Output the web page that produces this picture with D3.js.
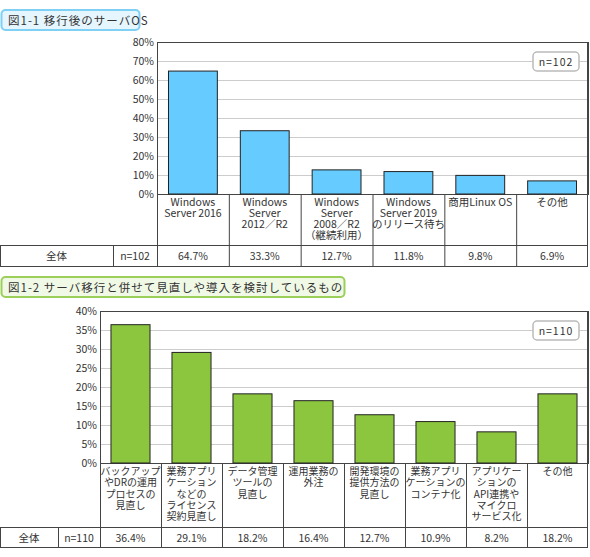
<!DOCTYPE html>
<html><head><meta charset="utf-8">
<script src="https://cdn.jsdelivr.net/npm/d3@7"></script>
<style>body{margin:0;background:#fff;font-family:"Noto Sans CJK JP",sans-serif}</style>
</head><body>
<svg id="c" width="590" height="557"></svg>
<script>
var cats1 = ["Windows\nServer 2016", "Windows\nServer\n2012／R2", "Windows\nServer\n2008／R2\n（継続利用）", "Windows\nServer 2019\nのリリース待ち", "商用Linux OS", "その他"];
var vals1 = [64.7, 33.3, 12.7, 11.8, 9.8, 6.9];
var ticks1 = [0, 10, 20, 30, 40, 50, 60, 70, 80];
var cats2 = ["バックアップ\nやDRの運用\nプロセスの\n見直し", "業務アプリ\nケーション\nなどの\nライセンス\n契約見直し", "データ管理\nツールの\n見直し", "運用業務の\n外注", "開発環境の\n提供方法の\n見直し", "業務アプリ\nケーションの\nコンテナ化", "アプリケー\nションの\nAPI連携や\nマイクロ\nサービス化", "その他"];
var vals2 = [36.4, 29.1, 18.2, 16.4, 12.7, 10.9, 8.2, 18.2];
var ticks2 = [0, 5, 10, 15, 20, 25, 30, 35, 40];

var svg = d3.select("#c");

function chart(o) {
  var g = svg.append("g");
  // title
  g.append("rect").attr("x", 1.5).attr("y", o.ty).attr("width", o.tw).attr("height", 20)
    .attr("rx", 4).attr("fill", o.tfill).attr("stroke", o.tstroke).attr("stroke-width", 2);
  g.append("text").attr("x", 8).attr("y", o.ty + 14.5).attr("font-size", 11.5).attr("fill", "#333")
    .attr("letter-spacing", 1).text(o.title);

  var x = d3.scaleBand().domain(d3.range(o.cats.length)).range([o.x0, 588]);
  var y = d3.scaleLinear().domain([0, d3.max(o.ticks)]).range([o.y0, o.y1]);

  g.selectAll(".gl").data(o.ticks).enter().append("line")
    .attr("x1", o.x0).attr("x2", 588).attr("y1", d => y(d) + .5).attr("y2", d => y(d) + .5)
    .attr("stroke", "#ccc");
  g.append("rect").attr("x", o.x0 + .5).attr("y", o.y1 + .5).attr("width", 588 - o.x0).attr("height", o.y0 - o.y1)
    .attr("fill", "none").attr("stroke", "#444");
  g.selectAll(".tk").data(o.ticks).enter().append("text")
    .attr("x", o.x0 - 3).attr("y", d => y(d) + 4).attr("text-anchor", "end").attr("font-size", 10.5)
    .attr("fill", "#333").text(d => d + "%");

  var bw = x.bandwidth() * o.bf;
  g.selectAll(".bar").data(o.vals).enter().append("rect")
    .attr("x", (d, i) => x(i) + (x.bandwidth() - bw) / 2).attr("width", bw)
    .attr("y", d => y(d)).attr("height", d => o.y0 - y(d))
    .attr("fill", o.color).attr("stroke", "#222").attr("stroke-width", 1);

  // n box
  g.append("rect").attr("x", 588 - 55).attr("y", o.y1 + 10).attr("width", 46).attr("height", 19).attr("rx", 4)
    .attr("fill", "#fff").attr("stroke", "#bbb").attr("stroke-width", 1.5);
  g.append("text").attr("x", 588 - 32).attr("y", o.y1 + 23.5).attr("text-anchor", "middle").attr("font-size", 10.5)
    .attr("fill", "#333").attr("letter-spacing", 1).text(o.n);

  // table
  var line = (x1, y1, x2, y2) => g.append("line").attr("x1", x1).attr("y1", y1).attr("x2", x2).attr("y2", y2).attr("stroke", "#444");
  line(0, o.r0 + .5, 588, o.r0 + .5);
  line(0, o.r1 + .5, 588, o.r1 + .5);
  line(0.5, o.r0, 0.5, o.r1);
  line(o.c1 + .5, o.r0, o.c1 + .5, o.r1);
  o.cats.forEach((c, i) => {
    line(x(i) + .5, o.y0, x(i) + .5, o.r1);
    var t = g.append("text").attr("text-anchor", "middle").attr("font-size", o.lf).attr("fill", "#333");
    c.split("\n").forEach((s, k) => t.append("tspan").attr("x", x(i) + x.bandwidth() / 2).attr("y", o.y0 + 12 + k * o.ls).text(s));
    g.append("text").attr("x", x(i) + x.bandwidth() / 2).attr("y", o.r0 + 14.5).attr("text-anchor", "middle")
      .attr("font-size", 10.5).attr("fill", "#333").text(o.vals[i].toFixed(1) + "%");
  });
  line(587.5, o.y1, 587.5, o.r1);
  g.append("text").attr("x", o.c1 / 2).attr("y", o.r0 + 14.5).attr("text-anchor", "middle").attr("font-size", 10.5).attr("fill", "#333").text("全体");
  g.append("text").attr("x", (o.c1 + o.x0) / 2).attr("y", o.r0 + 14.5).attr("text-anchor", "middle").attr("font-size", 10.5).attr("fill", "#333").text(o.n);
}

chart({title: "図1-1 移行後のサーバOS", ty: 10, tw: 138, tfill: "#e6f6ff", tstroke: "#7fd0f5",
  cats: cats1, vals: vals1, ticks: ticks1, x0: 157, y0: 194, y1: 42, bf: 0.68, color: "#66ccff",
  n: "n=102", r0: 245, r1: 266, c1: 113, lf: 10.5, ls: 11});
chart({title: "図1-2 サーバ移行と併せて見直しや導入を検討しているもの", ty: 277, tw: 343, tfill: "#f0f9e6", tstroke: "#9ccf5a",
  cats: cats2, vals: vals2, ticks: ticks2, x0: 100, y0: 463, y1: 311, bf: 0.64, color: "#8cc63f",
  n: "n=110", r0: 527, r1: 547, c1: 58, lf: 10, ls: 11.3});
</script>
</body></html>
